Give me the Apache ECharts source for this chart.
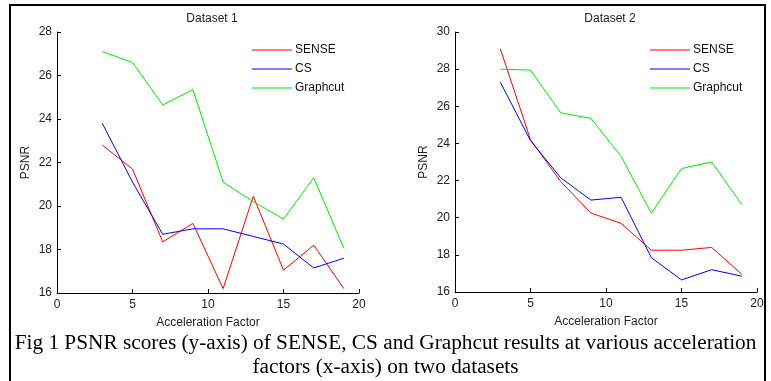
<!DOCTYPE html>
<html>
<head>
<meta charset="utf-8">
<script src="https://cdn.jsdelivr.net/npm/echarts@6/dist/echarts.min.js"></script>
<style>
  html, body { margin: 0; padding: 0; background: #fff; }
  #chart { width: 771px; height: 381px; }
</style>
</head>
<body>
<div id="chart"></div>
<script>
// acceleration factors shared by both panels
const accel = [3, 5, 7, 9, 11, 13, 15, 17, 19];

// Dataset 1
const sense1 = [22.8, 21.7, 18.35, 19.2, 16.2, 20.45, 17.05, 18.2, 16.2];
const cs1 = [23.8, 21.1, 18.7, 18.95, 18.95, 18.6, 18.25, 17.15, 17.6];
const graph1 = [27.1, 26.6, 24.65, 25.35, 21.1, 20.2, 19.4, 21.3, 18.05];

// Dataset 2
const sense2 = [29.1, 24.2, 21.95, 20.25, 19.7, 18.25, 18.25, 18.4, 16.95];
const cs2 = [27.3, 24.15, 22.15, 20.95, 21.1, 17.85, 16.65, 17.2, 16.85];
const graph2 = [28.0, 27.95, 25.65, 25.35, 23.3, 20.25, 22.65, 23.0, 20.7];

const captionLines = [
  'Fig 1 PSNR scores (y-axis) of SENSE, CS and Graphcut results at various acceleration',
  'factors (x-axis) on two datasets'
];

const colors = { SENSE: '#ff0000', CS: '#0000ff', Graphcut: '#00ee00' };
const axisFont = { fontFamily: 'Liberation Sans, Arial', fontSize: 12, color: '#222' };

const pairs = (ys) => accel.map((x, i) => [x, ys[i]]);

function mkSeries(name, ys, idx) {
  return {
    name: name,
    type: 'line',
    xAxisIndex: idx,
    yAxisIndex: idx,
    symbol: 'none',
    lineStyle: { color: colors[name], width: 1 },
    itemStyle: { color: colors[name] },
    data: pairs(ys)
  };
}

function xAxis(idx) {
  return {
    gridIndex: idx,
    type: 'value',
    min: 0, max: 20, interval: 5,
    name: 'Acceleration Factor',
    nameLocation: 'middle',
    nameGap: 24,
    nameTextStyle: axisFont,
    axisLine: { lineStyle: { color: '#000', width: 1 } },
    axisTick: { inside: true, length: 4, lineStyle: { color: '#000' } },
    axisLabel: Object.assign({ margin: 6 }, axisFont),
    splitLine: { show: false }
  };
}

function yAxis(idx, min, max) {
  return {
    gridIndex: idx,
    type: 'value',
    min: min, max: max, interval: 2,
    name: 'PSNR',
    nameLocation: 'middle',
    nameGap: 25,
    nameTextStyle: axisFont,
    axisLine: { show: true, lineStyle: { color: '#000', width: 1 } },
    axisTick: { show: true, inside: true, length: 4, lineStyle: { color: '#000' } },
    axisLabel: Object.assign({ margin: 5 }, axisFont),
    splitLine: { show: false }
  };
}

function legend(left) {
  return {
    orient: 'vertical',
    left: left,
    top: 43,
    icon: 'rect',
    itemWidth: 40,
    itemHeight: 1.2,
    itemGap: 5,
    padding: 0,
    textStyle: { fontFamily: 'Liberation Sans, Arial', fontSize: 12, color: '#111', padding: [0, 0, 0, -2], lineHeight: 14 },
    data: ['SENSE', 'CS', 'Graphcut']
  };
}

const chart = echarts.init(document.getElementById('chart'), null, { renderer: 'canvas' });
chart.setOption({
  animation: false,
  backgroundColor: '#fff',
  title: [
    { text: 'Dataset 1', left: 207, top: 8, textAlign: 'center',
      textStyle: { fontFamily: 'Liberation Sans, Arial', fontSize: 12, fontWeight: 'normal', color: '#222' } },
    { text: 'Dataset 2', left: 605, top: 8, textAlign: 'center',
      textStyle: { fontFamily: 'Liberation Sans, Arial', fontSize: 12, fontWeight: 'normal', color: '#222' } }
  ],
  legend: [legend(252), legend(650)],
  grid: [
    { left: 57, top: 32, width: 302, height: 261 },
    { left: 455, top: 32, width: 302, height: 260 }
  ],
  xAxis: [xAxis(0), xAxis(1)],
  yAxis: [yAxis(0, 16, 28), yAxis(1, 16, 30)],
  series: [
    mkSeries('SENSE', sense1, 0),
    mkSeries('CS', cs1, 0),
    mkSeries('Graphcut', graph1, 0),
    mkSeries('SENSE', sense2, 1),
    mkSeries('CS', cs2, 1),
    mkSeries('Graphcut', graph2, 1)
  ],
  graphic: [
    { type: 'polyline', silent: true,
      shape: { points: [[10, 381], [10, 5], [765, 5], [765, 381]] },
      style: { stroke: '#000', lineWidth: 2, fill: null } },
    { type: 'text', left: 'center', top: 333, silent: true,
      style: { text: captionLines[0], font: '21.3px "Liberation Serif", "Times New Roman", serif', fill: '#000' } },
    { type: 'text', left: 'center', top: 357, silent: true,
      style: { text: captionLines[1], font: '21.3px "Liberation Serif", "Times New Roman", serif', fill: '#000' } }
  ]
});
</script>
</body>
</html>
